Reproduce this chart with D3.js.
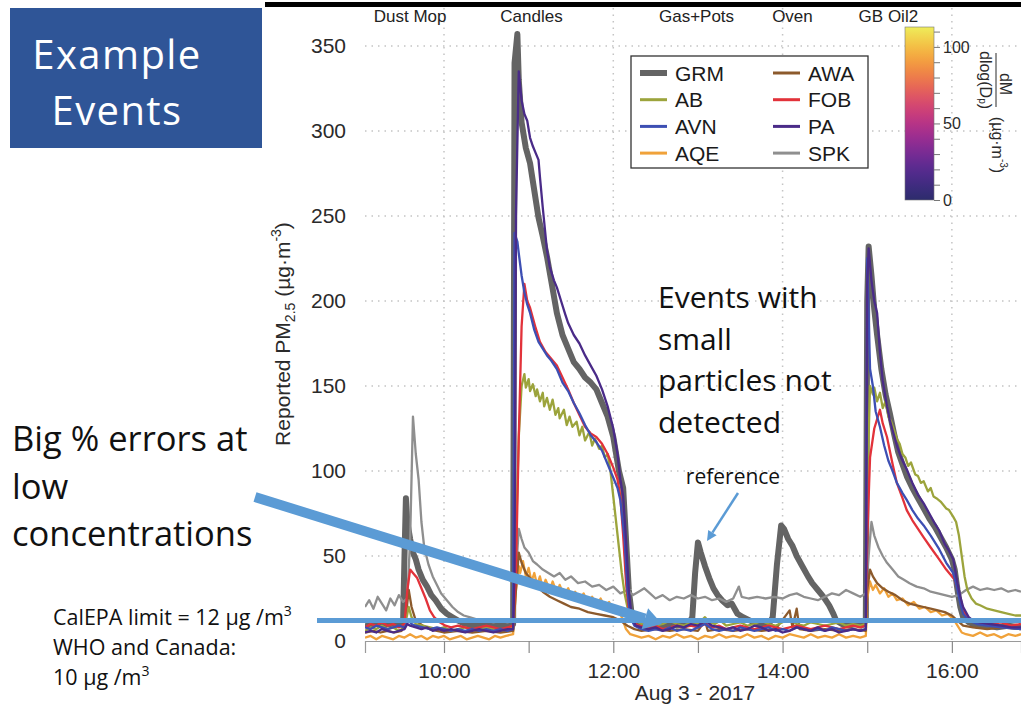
<!DOCTYPE html>
<html>
<head>
<meta charset="utf-8">
<script src="https://cdn.jsdelivr.net/npm/d3@7"></script>
<style>
body { margin: 0; background: #fff; }
svg { display: block; }
</style>
</head>
<body>
<div id="chart"></div>
<script>
// series readings (time, PM2.5 ug/m3)
const grm = [["9:04",10],["9:08",9],["9:12",11],["9:16",9],["9:20",10],["9:24",9],["9:28",10],["9:31",11],["9:32",50],["9:33",84],["9:34",70],["9:36",60],["9:38",52],["9:40",48],["9:42",42],["9:45",36],["9:48",32],["9:51",27],["9:54",24],["9:58",19],["10:02",16],["10:06",14],["10:10",12],["10:15",10],["10:20",9],["10:25",10],["10:30",9],["10:35",10],["10:40",9],["10:45",10],["10:49",10],["10:50",340],["10:52",357],["10:53",330],["10:55",305],["10:58",290],["11:01",281],["11:04",265],["11:07",249],["11:10",238],["11:13",226],["11:16",212],["11:20",193],["11:24",180],["11:28",172],["11:32",164],["11:36",160],["11:40",155],["11:44",152],["11:48",148],["11:52",140],["11:56",132],["12:00",120],["12:04",100],["12:07",90],["12:09",60],["12:11",30],["12:13",16],["12:16",12],["12:20",10],["12:25",9],["12:30",10],["12:35",9],["12:40",10],["12:45",9],["12:50",10],["12:54",11],["12:56",14],["12:58",40],["13:00",58],["13:02",52],["13:05",44],["13:08",37],["13:11",31],["13:14",27],["13:17",24],["13:21",21],["13:24",22],["13:26",19],["13:28",16],["13:32",14],["13:37",12],["13:42",10],["13:47",10],["13:51",11],["13:53",14],["13:56",45],["13:59",68],["14:01",66],["14:04",60],["14:07",56],["14:10",50],["14:14",44],["14:18",38],["14:21",34],["14:25",30],["14:29",26],["14:33",21],["14:36",16],["14:38",12],["14:42",10],["14:47",9],["14:52",10],["14:56",9],["14:59",12],["15:00",200],["15:01",232],["15:03",215],["15:05",195],["15:07",180],["15:10",160],["15:13",145],["15:16",134],["15:19",122],["15:22",111],["15:25",104],["15:28",97],["15:32",90],["15:36",84],["15:40",78],["15:44",72],["15:48",67],["15:52",61],["15:56",55],["16:00",48],["16:02",42],["16:04",30],["16:06",20],["16:08",14],["16:12",11],["16:18",9],["16:25",9],["16:32",8],["16:40",9],["16:49",8]];

const ab = [["9:04",6],["9:08",8],["9:12",7],["9:16",9],["9:20",7],["9:24",8],["9:28",6],["9:32",8],["9:35",20],["9:37",14],["9:40",10],["9:45",9],["9:50",8],["9:55",7],["10:00",8],["10:05",6],["10:10",7],["10:15",8],["10:20",6],["10:25",7],["10:30",8],["10:35",7],["10:40",6],["10:45",7],["10:49",8],["10:51",60],["10:53",120],["10:55",150],["10:57",157],["10:58",149],["11:00",154],["11:01",147],["11:03",151],["11:05",144],["11:06",148],["11:08",141],["11:10",146],["11:11",138],["11:13",143],["11:15",136],["11:17",142],["11:19",133],["11:21",137],["11:22",131],["11:25",136],["11:27",127],["11:29",132],["11:31",126],["11:34",129],["11:36",121],["11:38",126],["11:40",118],["11:43",123],["11:45",115],["11:47",119],["11:50",113],["11:52",115],["11:54",108],["11:56",110],["11:58",100],["12:00",85],["12:02",70],["12:04",55],["12:06",40],["12:08",28],["12:10",20],["12:13",15],["12:16",12],["12:20",10],["12:25",11],["12:30",9],["12:35",10],["12:40",12],["12:45",10],["12:50",9],["12:55",11],["13:00",10],["13:05",14],["13:08",11],["13:12",10],["13:16",12],["13:20",9],["13:25",10],["13:30",11],["13:35",9],["13:40",10],["13:45",12],["13:50",10],["13:55",9],["14:00",11],["14:05",13],["14:10",10],["14:15",9],["14:20",11],["14:25",10],["14:30",9],["14:35",10],["14:40",11],["14:45",9],["14:50",10],["14:55",9],["14:59",10],["15:01",120],["15:02",150],["15:04",145],["15:05",149],["15:07",141],["15:09",146],["15:11",137],["15:13",141],["15:15",132],["15:17",129],["15:19",124],["15:21",119],["15:23",116],["15:25",110],["15:27",108],["15:29",103],["15:31",105],["15:34",98],["15:36",97],["15:38",93],["15:40",94],["15:43",88],["15:45",90],["15:47",85],["15:49",84],["15:52",82],["15:54",80],["15:56",78],["15:58",77],["16:01",73],["16:03",70],["16:05",62],["16:07",50],["16:09",38],["16:11",30],["16:14",25],["16:17",22],["16:20",21],["16:25",19],["16:30",18],["16:35",17],["16:40",16],["16:45",15],["16:49",15]];

const avn = [["9:04",8],["9:08",7],["9:12",9],["9:16",8],["9:20",7],["9:24",8],["9:28",9],["9:32",8],["9:35",12],["9:37",10],["9:40",9],["9:45",8],["9:50",7],["9:55",8],["10:00",7],["10:05",6],["10:10",7],["10:15",6],["10:20",7],["10:25",6],["10:30",7],["10:35",6],["10:40",7],["10:45",6],["10:49",7],["10:50",240],["10:52",235],["10:53",228],["10:55",215],["10:57",205],["10:59",198],["11:01",193],["11:04",183],["11:07",176],["11:10",172],["11:13",168],["11:16",165],["11:20",160],["11:24",152],["11:28",147],["11:32",140],["11:36",134],["11:40",127],["11:44",121],["11:48",117],["11:52",112],["11:56",104],["12:00",96],["12:03",90],["12:05",83],["12:08",60],["12:10",30],["12:12",14],["12:15",9],["12:20",7],["12:25",6],["12:30",7],["12:35",6],["12:40",8],["12:45",6],["12:50",7],["12:55",6],["13:00",8],["13:05",10],["13:10",7],["13:15",6],["13:20",7],["13:25",6],["13:30",8],["13:35",7],["13:40",6],["13:45",7],["13:50",8],["13:55",6],["14:00",7],["14:05",6],["14:10",8],["14:15",7],["14:20",6],["14:25",7],["14:30",6],["14:35",8],["14:40",7],["14:45",6],["14:50",7],["14:55",6],["14:59",7],["15:00",225],["15:02",160],["15:04",150],["15:06",135],["15:09",126],["15:12",115],["15:15",106],["15:18",100],["15:21",93],["15:25",87],["15:28",83],["15:32",77],["15:36",72],["15:40",68],["15:45",62],["15:51",54],["15:56",46],["16:01",40],["16:04",30],["16:06",22],["16:08",16],["16:12",12],["16:18",10],["16:25",9],["16:35",8],["16:49",7]];

const aqe = [["9:04",2],["9:08",3],["9:12",1],["9:16",3],["9:20",2],["9:24",1],["9:28",3],["9:32",2],["9:36",4],["9:40",2],["9:44",3],["9:48",1],["9:52",3],["9:56",2],["10:00",3],["10:04",1],["10:08",2],["10:12",3],["10:16",1],["10:20",2],["10:24",3],["10:28",2],["10:32",1],["10:36",3],["10:40",2],["10:44",3],["10:49",4],["10:51",30],["10:53",44],["10:54",40],["10:56",47],["10:58",38],["11:00",43],["11:02",35],["11:04",40],["11:06",33],["11:08",38],["11:10",31],["11:12",36],["11:15",30],["11:17",35],["11:20",28],["11:22",33],["11:25",27],["11:28",31],["11:31",25],["11:33",29],["11:36",24],["11:39",28],["11:42",22],["11:45",26],["11:48",21],["11:51",25],["11:54",20],["11:57",23],["12:00",18],["12:03",20],["12:06",14],["12:09",7],["12:12",4],["12:16",3],["12:20",2],["12:25",3],["12:30",1],["12:35",3],["12:40",2],["12:45",4],["12:50",2],["12:55",3],["13:00",1],["13:05",3],["13:10",2],["13:15",4],["13:20",2],["13:25",3],["13:30",2],["13:35",4],["13:40",2],["13:45",3],["13:50",1],["13:55",3],["14:00",2],["14:05",4],["14:10",3],["14:15",2],["14:20",4],["14:25",2],["14:30",3],["14:35",2],["14:40",4],["14:45",2],["14:50",3],["14:55",2],["14:59",3],["15:00",25],["15:02",35],["15:04",30],["15:06",33],["15:09",28],["15:12",31],["15:15",26],["15:18",28],["15:21",24],["15:25",25],["15:29",21],["15:33",23],["15:37",19],["15:41",20],["15:45",17],["15:49",18],["15:53",15],["15:57",16],["16:01",13],["16:04",9],["16:07",5],["16:10",4],["16:15",3],["16:20",5],["16:25",3],["16:30",4],["16:35",2],["16:40",4],["16:45",3],["16:49",4]];

const awa = [["9:04",5],["9:10",6],["9:15",5],["9:20",6],["9:25",5],["9:30",6],["9:33",15],["9:35",30],["9:37",20],["9:40",12],["9:45",9],["9:50",7],["9:55",6],["10:00",5],["10:10",6],["10:20",5],["10:30",6],["10:40",5],["10:49",6],["10:51",30],["10:53",52],["10:55",46],["10:58",40],["11:02",36],["11:06",32],["11:10",29],["11:15",26],["11:20",24],["11:25",22],["11:30",20],["11:36",19],["11:42",17],["11:48",16],["11:54",15],["12:00",14],["12:05",12],["12:10",9],["12:15",7],["12:20",6],["12:30",7],["12:40",6],["12:50",7],["13:00",6],["13:05",12],["13:07",6],["13:15",7],["13:25",6],["13:35",7],["13:45",6],["13:55",7],["14:05",18],["14:07",8],["14:10",19],["14:12",7],["14:20",6],["14:30",7],["14:40",6],["14:50",7],["14:59",6],["15:00",30],["15:02",42],["15:04",38],["15:07",34],["15:11",31],["15:15",29],["15:20",27],["15:25",24],["15:30",22],["15:35",21],["15:40",20],["15:45",19],["15:50",18],["15:55",17],["16:00",15],["16:04",12],["16:08",9],["16:15",8],["16:25",7],["16:35",8],["16:49",7]];

const fob = [["9:04",8],["9:08",10],["9:12",9],["9:16",11],["9:20",9],["9:24",10],["9:28",8],["9:32",10],["9:34",30],["9:36",42],["9:38",40],["9:41",37],["9:44",31],["9:47",25],["9:50",18],["9:53",14],["9:57",11],["10:01",9],["10:05",8],["10:10",9],["10:15",8],["10:20",7],["10:25",8],["10:30",9],["10:35",8],["10:40",7],["10:45",8],["10:49",9],["10:51",40],["10:53",120],["10:55",185],["10:57",210],["10:59",200],["11:01",196],["11:03",190],["11:05",184],["11:08",176],["11:12",170],["11:16",166],["11:20",162],["11:24",155],["11:28",148],["11:32",140],["11:36",133],["11:40",126],["11:44",122],["11:48",120],["11:52",116],["11:56",110],["12:00",102],["12:03",95],["12:05",85],["12:07",62],["12:09",35],["12:11",18],["12:14",11],["12:18",9],["12:25",8],["12:30",9],["12:35",7],["12:40",8],["12:45",9],["12:50",8],["12:55",9],["13:00",8],["13:05",10],["13:10",8],["13:15",9],["13:20",7],["13:25",8],["13:30",9],["13:35",8],["13:40",7],["13:45",8],["13:50",9],["13:55",8],["14:00",7],["14:05",8],["14:10",9],["14:15",8],["14:20",7],["14:25",8],["14:30",9],["14:35",8],["14:40",7],["14:45",8],["14:50",9],["14:55",8],["14:59",9],["15:00",60],["15:02",108],["15:05",125],["15:09",136],["15:11",128],["15:14",120],["15:18",104],["15:21",93],["15:25",84],["15:28",77],["15:32",71],["15:36",66],["15:40",61],["15:45",55],["15:51",48],["15:56",42],["16:02",36],["16:05",28],["16:08",18],["16:12",13],["16:15",12],["16:20",11],["16:27",10],["16:35",11],["16:42",9],["16:49",10]];

const pa = [["9:04",5],["9:08",6],["9:12",5],["9:16",7],["9:20",6],["9:24",5],["9:28",6],["9:32",7],["9:34",10],["9:36",9],["9:40",8],["9:44",7],["9:48",8],["9:52",6],["9:56",7],["10:00",6],["10:05",7],["10:10",6],["10:15",5],["10:20",6],["10:25",7],["10:30",6],["10:35",5],["10:40",6],["10:45",7],["10:49",7],["10:50",40],["10:51",250],["10:53",335],["10:55",318],["10:57",310],["10:59",306],["11:01",296],["11:03",291],["11:05",287],["11:07",283],["11:08",273],["11:10",255],["11:13",230],["11:15",220],["11:18",212],["11:20",208],["11:23",200],["11:26",192],["11:28",187],["11:32",180],["11:36",175],["11:40",168],["11:44",162],["11:48",156],["11:52",148],["11:56",138],["12:00",125],["12:03",110],["12:05",95],["12:07",85],["12:09",60],["12:11",30],["12:13",14],["12:16",9],["12:20",8],["12:25",7],["12:30",8],["12:35",6],["12:40",7],["12:45",9],["12:50",8],["12:55",10],["13:00",9],["13:05",12],["13:10",9],["13:15",8],["13:20",7],["13:25",8],["13:30",6],["13:35",7],["13:40",9],["13:45",8],["13:50",6],["13:55",7],["14:00",5],["14:05",6],["14:10",8],["14:15",7],["14:20",6],["14:25",8],["14:30",6],["14:35",7],["14:40",5],["14:45",6],["14:50",7],["14:55",6],["14:59",7],["15:00",210],["15:01",231],["15:03",212],["15:05",200],["15:07",193],["15:09",170],["15:11",153],["15:14",138],["15:16",130],["15:18",124],["15:21",115],["15:24",108],["15:28",101],["15:32",93],["15:36",86],["15:40",81],["15:44",75],["15:48",69],["15:51",65],["15:55",57],["15:58",53],["16:01",48],["16:04",34],["16:06",26],["16:08",20],["16:12",14],["16:15",12],["16:20",11],["16:27",10],["16:35",9],["16:42",8],["16:49",8]];

const spk = [["9:04",20],["9:07",24],["9:10",19],["9:13",26],["9:16",22],["9:19",18],["9:22",25],["9:25",21],["9:28",27],["9:31",23],["9:34",25],["9:36",60],["9:38",132],["9:40",110],["9:42",95],["9:44",70],["9:46",55],["9:49",45],["9:52",38],["9:55",33],["9:58",28],["10:02",24],["10:06",20],["10:10",17],["10:14",15],["10:18",14],["10:22",13],["10:26",12],["10:30",12],["10:35",11],["10:40",12],["10:45",11],["10:49",12],["10:51",40],["10:53",66],["10:55",60],["10:57",55],["11:00",52],["11:03",47],["11:06",45],["11:10",42],["11:14",40],["11:18",38],["11:22",40],["11:26",36],["11:30",38],["11:35",34],["11:40",35],["11:45",32],["11:50",33],["11:55",30],["12:00",32],["12:05",28],["12:10",30],["12:14",27],["12:18",29],["12:22",31],["12:26",28],["12:30",25],["12:35",27],["12:40",24],["12:45",26],["12:50",25],["12:55",27],["13:00",25],["13:05",26],["13:10",24],["13:15",25],["13:20",23],["13:25",25],["13:29",32],["13:31",26],["13:36",25],["13:42",26],["13:48",25],["13:54",26],["14:00",25],["14:05",27],["14:10",28],["14:15",26],["14:20",25],["14:25",24],["14:30",26],["14:35",28],["14:40",27],["14:45",30],["14:50",28],["14:55",26],["14:59",28],["15:01",50],["15:03",70],["15:05",62],["15:08",55],["15:11",50],["15:14",46],["15:18",42],["15:22",38],["15:26",36],["15:30",34],["15:35",32],["15:40",31],["15:45",29],["15:50",28],["15:55",27],["16:00",26],["16:05",27],["16:10",30],["16:15",32],["16:20",30],["16:25",31],["16:30",30],["16:35",31],["16:40",29],["16:45",30],["16:49",29]];

const seriesNames = ["GRM", "AB", "AVN", "AQE", "AWA", "FOB", "PA", "SPK"];
const seriesData = { GRM: grm, AB: ab, AVN: avn, AQE: aqe, AWA: awa, FOB: fob, PA: pa, SPK: spk };
const drawOrder = ["GRM", "SPK", "AQE", "AWA", "AB", "FOB", "AVN", "PA"];

const eventNames = ["Dust Mop", "Candles", "Gas+Pots", "Oven", "GB Oil2"];
const eventTimes = ["9:36", "11:02", "12:59", "14:07", "15:15"];

const yTicks = [0, 50, 100, 150, 200, 250, 300, 350];
const colorbarTicks = [0, 50, 100];
const cutoffValue = 12;

const colors = {
    GRM: "#646464", AB: "#9ca43c", AVN: "#3d4fb3", AQE: "#f0a23a",
    AWA: "#8c5a2c", FOB: "#e2323a", PA: "#4a2b88", SPK: "#8f8f8f"
};
const slideBlue = "#5b9bd5";

const W = 1021, H = 708;
const parseTime = d3.timeParse("%H:%M");

const svg = d3.select("#chart").append("svg")
    .attr("width", W)
    .attr("height", H)
    .style("font-family", "'Liberation Sans', Arial, sans-serif");

const x = d3.scaleTime()
    .domain([parseTime("9:04"), parseTime("16:49")])
    .range([365, 1021]);

const y = d3.scaleLinear()
    .domain([0, 350])
    .range([641, 46]);

// top rule left from the panel above
svg.append("rect").attr("x", 265).attr("y", 2).attr("width", W - 265).attr("height", 5).attr("fill", "#000");

// grid
const grid = svg.append("g");
grid.selectAll(".hgrid")
    .data(yTicks.filter(d => d > 0))
    .join("line")
    .attr("x1", 365).attr("x2", W)
    .attr("y1", d => y(d)).attr("y2", d => y(d))
    .attr("stroke", "#c4c4c4").attr("stroke-width", 1.5)
    .attr("stroke-dasharray", "1.5,5");

const hours = d3.timeHour.every(1).range(parseTime("9:30"), parseTime("16:49"));
grid.selectAll(".vgrid")
    .data(hours.filter(d => d.getHours() % 2 === 0))
    .join("line")
    .attr("x1", d => x(d)).attr("x2", d => x(d))
    .attr("y1", 8).attr("y2", 641)
    .attr("stroke", "#c4c4c4").attr("stroke-width", 1.5)
    .attr("stroke-dasharray", "1.5,5");

// x axis
const xAxis = d3.axisBottom(x)
    .ticks(d3.timeHour.every(1))
    .tickSize(12)
    .tickFormat(d => d.getHours() % 2 === 0 ? d3.timeFormat("%H:%M")(d) : "");

const gx = svg.append("g")
    .attr("transform", "translate(0,641)")
    .call(xAxis);
gx.select(".domain").attr("stroke", "#9a9a9a").attr("stroke-width", 1.2);
gx.selectAll(".tick line").attr("stroke", "#8a8a8a").attr("stroke-width", 1.2);
gx.selectAll(".tick text")
    .attr("font-size", 21).attr("fill", "#2a2a2a")
    .attr("y", 22)
    .attr("font-family", "'Liberation Sans', Arial, sans-serif");

svg.append("text")
    .attr("x", 695).attr("y", 700)
    .attr("text-anchor", "middle")
    .attr("font-size", 21).attr("fill", "#2a2a2a")
    .text("Aug 3 - 2017");

// y axis labels (no line)
const yAxis = d3.axisLeft(y).tickValues(yTicks).tickSize(0).tickPadding(0);
const gy = svg.append("g")
    .attr("transform", "translate(346,0)")
    .call(yAxis);
gy.select(".domain").remove();
gy.selectAll(".tick text")
    .attr("font-size", 21).attr("fill", "#2a2a2a")
    .attr("font-family", "'Liberation Sans', Arial, sans-serif");

const yLabel = svg.append("text")
    .attr("transform", "translate(290,334) rotate(-90)")
    .attr("text-anchor", "middle")
    .attr("font-size", 21).attr("fill", "#2a2a2a");
yLabel.append("tspan").text("Reported PM");
yLabel.append("tspan").attr("font-size", 14).attr("dy", 5).text("2.5");
yLabel.append("tspan").attr("dy", -5).text("  (µg·m");
yLabel.append("tspan").attr("font-size", 14).attr("dy", -9).text("-3");
yLabel.append("tspan").attr("dy", 9).text(")");

// event labels along the top
svg.selectAll(".evt")
    .data(eventNames)
    .join("text")
    .attr("x", (d, i) => x(parseTime(eventTimes[i])))
    .attr("y", 22)
    .attr("text-anchor", "middle")
    .attr("font-size", 17).attr("fill", "#222")
    .text(d => d);

// series lines
svg.append("clipPath").attr("id", "plotclip")
    .append("rect").attr("x", 365).attr("y", 8).attr("width", W - 365).attr("height", 645);

const line = d3.line()
    .x(d => x(parseTime(d[0])))
    .y(d => y(d[1]));

svg.append("g").attr("clip-path", "url(#plotclip)")
    .selectAll("path")
    .data(drawOrder)
    .join("path")
    .attr("d", name => line(seriesData[name]))
    .attr("fill", "none")
    .attr("stroke", name => colors[name])
    .attr("stroke-width", name => name === "GRM" ? 6 : 2.3)
    .attr("stroke-linejoin", "round");

// legend
const legend = svg.append("g");
legend.append("rect")
    .attr("x", 631).attr("y", 56).attr("width", 237).attr("height", 112)
    .attr("fill", "#fff").attr("stroke", "#333").attr("stroke-width", 1.3);
const legItems = legend.selectAll(".leg")
    .data(seriesNames)
    .join("g")
    .attr("transform", (d, i) => `translate(${i < 4 ? 640 : 773},${73 + (i % 4) * 26.7})`);
legItems.append("line")
    .attr("x1", 0).attr("x2", 27)
    .attr("stroke", d => colors[d])
    .attr("stroke-width", d => d === "GRM" ? 6 : 3);
legItems.append("text")
    .attr("x", 35).attr("dy", "0.36em")
    .attr("font-size", 21).attr("fill", "#1a1a1a")
    .text(d => d);

// colour bar
const cb = d3.scaleLinear().domain([0, 113]).range([200, 27]);
const cmap = d3.interpolateRgbBasis(["#2d2c6c", "#4a2b8e", "#7d2b96", "#b52f8c", "#dc4a6c", "#ef7d45", "#f6b23c", "#eeed5a"]);
const grad = svg.append("defs").append("linearGradient")
    .attr("id", "cbgrad").attr("x1", 0).attr("y1", 1).attr("x2", 0).attr("y2", 0);
grad.selectAll("stop")
    .data(d3.range(0, 1.001, 0.05))
    .join("stop")
    .attr("offset", d => d)
    .attr("stop-color", d => cmap(d));
svg.append("rect")
    .attr("x", 905).attr("y", 27).attr("width", 29).attr("height", 173)
    .attr("fill", "url(#cbgrad)").attr("stroke", "#777").attr("stroke-width", 0.6);
const cbAxis = d3.axisRight(cb)
    .tickValues(d3.range(0, 111, 10))
    .tickSize(6)
    .tickFormat(d => colorbarTicks.includes(d) ? d : "");
const gcb = svg.append("g").attr("transform", "translate(934,0)").call(cbAxis);
gcb.select(".domain").remove();
gcb.selectAll(".tick line").attr("stroke", "#777");
gcb.selectAll(".tick text")
    .attr("font-size", 16).attr("fill", "#2a2a2a").attr("x", 9)
    .attr("font-family", "'Liberation Sans', Arial, sans-serif");

svg.append("text")
    .attr("transform", "translate(1005,84) rotate(90)")
    .attr("text-anchor", "middle").attr("dominant-baseline", "central")
    .attr("font-size", 16).attr("fill", "#2a2a2a")
    .text("dM");
svg.append("line")
    .attr("x1", 996).attr("x2", 996).attr("y1", 53).attr("y2", 107)
    .attr("stroke", "#2a2a2a").attr("stroke-width", 1);
const dlog = svg.append("text")
    .attr("transform", "translate(986,80) rotate(90)")
    .attr("text-anchor", "middle").attr("dominant-baseline", "central")
    .attr("font-size", 16).attr("fill", "#2a2a2a");
dlog.append("tspan").text("dlog(D");
dlog.append("tspan").attr("font-size", 10).attr("dy", 3).text("p");
dlog.append("tspan").attr("dy", -3).text(")");
const cbUnit = svg.append("text")
    .attr("transform", "translate(998,145) rotate(90)")
    .attr("text-anchor", "middle").attr("dominant-baseline", "central")
    .attr("font-size", 16).attr("fill", "#2a2a2a");
cbUnit.append("tspan").text("(µg·m");
cbUnit.append("tspan").attr("font-size", 10).attr("dy", -6).text("-3");
cbUnit.append("tspan").attr("dy", 6).text(")");

// ---- slide annotations ----
const slideFont = "'Open Sans', 'Noto Sans', sans-serif";

svg.append("rect")
    .attr("x", 10).attr("y", 8).attr("width", 252).attr("height", 140)
    .attr("fill", "#2f5597");
svg.append("text")
    .attr("x", 117).attr("y", 69).attr("text-anchor", "middle")
    .attr("font-family", slideFont).attr("font-size", 40).attr("letter-spacing", 1.4).attr("fill", "#fff")
    .text("Example");
svg.append("text")
    .attr("x", 117).attr("y", 125).attr("text-anchor", "middle")
    .attr("font-family", slideFont).attr("font-size", 40).attr("letter-spacing", 1.4).attr("fill", "#fff")
    .text("Events");

const noteLines = ["Events with", "small", "particles not", "detected"];
svg.append("g").selectAll("text")
    .data(noteLines)
    .join("text")
    .attr("x", 658).attr("y", (d, i) => 308 + i * 41.5)
    .attr("font-family", slideFont).attr("font-size", 30).attr("fill", "#111")
    .text(d => d);

const errLines = ["Big % errors at", "low", "concentrations"];
svg.append("g").selectAll("text")
    .data(errLines)
    .join("text")
    .attr("x", 12).attr("y", (d, i) => 451 + i * 47.5)
    .attr("font-family", slideFont).attr("font-size", 34.5).attr("fill", "#111")
    .text(d => d);

const limitText = svg.append("g")
    .attr("font-family", slideFont).attr("font-size", 21.5).attr("fill", "#111");
const l1 = limitText.append("text").attr("x", 53).attr("y", 625);
l1.append("tspan").text("CalEPA limit = 12 µg /m");
l1.append("tspan").attr("font-size", 14).attr("dy", -9).text("3");
limitText.append("text").attr("x", 53).attr("y", 655).text("WHO and Canada:");
const l3 = limitText.append("text").attr("x", 53).attr("y", 685);
l3.append("tspan").text("10 µg /m");
l3.append("tspan").attr("font-size", 14).attr("dy", -9).text("3");

// 12 ug/m3 line
svg.append("line")
    .attr("x1", 317).attr("x2", W)
    .attr("y1", y(cutoffValue)).attr("y2", y(cutoffValue))
    .attr("stroke", slideBlue).attr("stroke-width", 5);

// arrows
function arrow(x1, y1, x2, y2, w, headW, headL) {
    const a = Math.atan2(y2 - y1, x2 - x1);
    const bx = x2 - headL * Math.cos(a), by = y2 - headL * Math.sin(a);
    const nx = -Math.sin(a), ny = Math.cos(a);
    svg.append("line")
        .attr("x1", x1).attr("y1", y1).attr("x2", bx).attr("y2", by)
        .attr("stroke", slideBlue).attr("stroke-width", w);
    svg.append("path")
        .attr("d", `M${x2},${y2}L${bx + nx * headW},${by + ny * headW}L${bx - nx * headW},${by - ny * headW}Z`)
        .attr("fill", slideBlue);
}
arrow(255, 497, 662, 624, 10, 11, 18);

svg.append("text")
    .attr("x", 733).attr("y", 484).attr("text-anchor", "middle")
    .attr("font-family", slideFont).attr("font-size", 21).attr("fill", "#111")
    .text("reference");
arrow(738, 493, 707, 541, 2.5, 5, 10);
</script>
</body>
</html>
